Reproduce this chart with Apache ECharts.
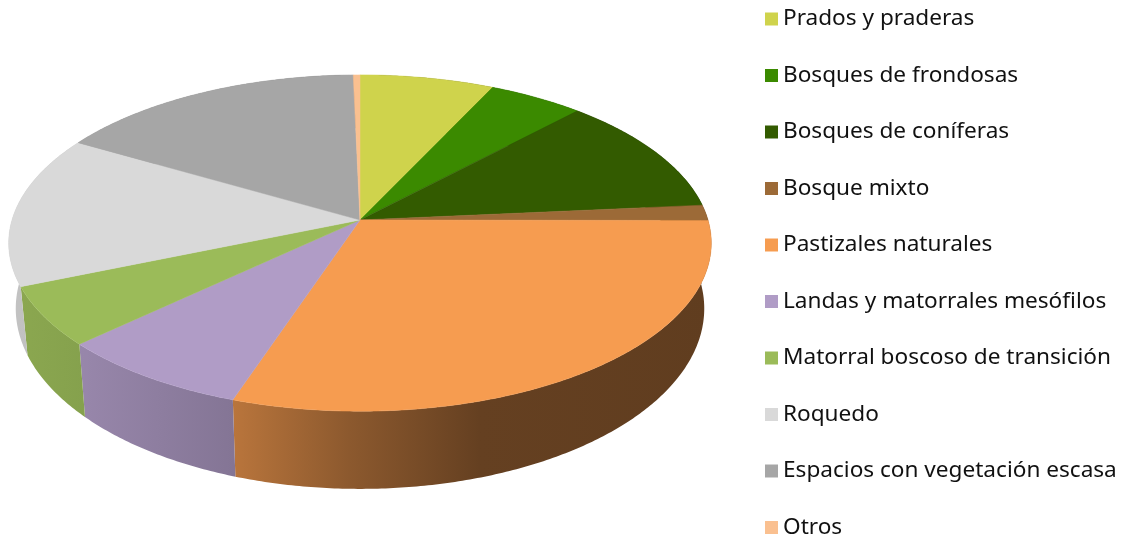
<!DOCTYPE html>
<html>
<head>
    <meta charset="UTF-8">
    <title>Usos del suelo</title>
    <script src="https://cdn.jsdelivr.net/npm/echarts@6/dist/echarts.min.js"></script>
    <style>
        html, body { margin: 0; padding: 0; background: #fff; }
        #chart { width: 1124px; height: 537px; }
    </style>
</head>
<body>
    <div id="chart"></div>
    <script>
        const categories = ['Prados y praderas', 'Bosques de frondosas', 'Bosques de coníferas', 'Bosque mixto', 'Pastizales naturales', 'Landas y matorrales mesófilos', 'Matorral boscoso de transición', 'Roquedo', 'Espacios con vegetación escasa', 'Otros'];
        const values = [7.05, 5.0, 11.5, 1.5, 30.1, 7.9, 5.7, 14.6, 16.3, 0.35];
        const colors = ['#cfd34c', '#3b8a00', '#335b00', '#9c6a37', '#f69c50', '#b09cc6', '#9bbb59', '#d9d9d9', '#a6a6a6', '#fac090'];

        // shading of the pie's side wall, left to right: [x as share of pie width, brightness]
        const wallShade = [[0, 0.9], [0.11, 0.86], [0.32, 0.75], [0.485, 0.57], [0.67, 0.41], [1, 0.39]];

        // pie placed in perspective: the circle's centre does not sit in the middle of its ellipse
        const pie = { x: 360, k: 0.137, top: { y: 220, a: 348, b: 165 }, floor: { y: 283.8, a: 341, b: 177 } };

        const total = values.reduce((s, v) => s + v, 0);

        function project(angle, plane) {
            const u = Math.sin(angle);
            const v = -Math.cos(angle);
            const w = 1 - pie.k * v;
            return [pie.x + plane.a * u / w, plane.y + plane.b * v / w];
        }

        function shadeColor(hex, f) {
            const n = parseInt(hex.slice(1), 16);
            const c = [n >> 16, (n >> 8) & 255, n & 255].map(d => Math.round(d * f));
            return 'rgb(' + c.join(',') + ')';
        }

        function arcPoints(start, end, plane) {
            const steps = Math.max(2, Math.ceil((end - start) / 0.01));
            const pts = [];
            for (let i = 0; i <= steps; i++) {
                pts.push(project(start + (end - start) * i / steps, plane));
            }
            return pts;
        }

        function makeSeries(name, index) {
            const before = values.slice(0, index).reduce((s, v) => s + v, 0);
            const start = before / total * Math.PI * 2;
            const end = (before + values[index]) / total * Math.PI * 2;
            const color = colors[index];
            return {
                name: name,
                type: 'custom',
                coordinateSystem: 'none',
                itemStyle: { color: color },
                silent: true,
                data: [values[index]],
                renderItem: function () {
                    const rim = arcPoints(start, end, pie.top);
                    const wall = rim.concat(arcPoints(start, end, pie.floor).reverse());
                    const left = pie.x - pie.top.a * 1.01;
                    const right = pie.x + pie.top.a * 1.01;
                    return {
                        type: 'group',
                        children: [{
                            type: 'polygon',
                            z2: 1,
                            shape: { points: wall },
                            style: {
                                fill: {
                                    type: 'linear', x: left, y: 0, x2: right, y2: 0, global: true,
                                    colorStops: wallShade.map(s => ({ offset: s[0], color: shadeColor(color, s[1]) }))
                                }
                            }
                        }, {
                            type: 'polygon',
                            z2: 2,
                            shape: { points: [[pie.x, pie.top.y]].concat(rim) },
                            style: { fill: color, stroke: color, lineWidth: 0.5 }
                        }]
                    };
                }
            };
        }

        const chart = echarts.init(document.getElementById('chart'));
        chart.setOption({
            animation: false,
            legend: {
                orient: 'vertical',
                left: 765,
                top: 7.5,
                height: 600,
                padding: 0,
                icon: 'rect',
                itemWidth: 13,
                itemHeight: 13,
                itemGap: 33.5,
                selectedMode: false,
                textStyle: { fontFamily: 'Noto Sans', fontSize: 22.6, color: '#111', lineHeight: 14 },
                data: categories
            },
            series: categories.map(makeSeries)
        });
    </script>
</body>
</html>
